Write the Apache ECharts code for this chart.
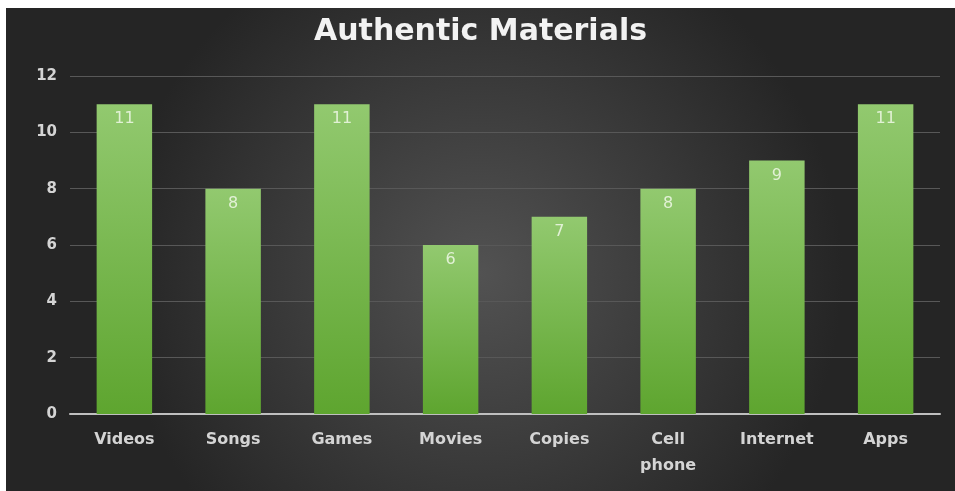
<!DOCTYPE html>
<html>
<head>
<meta charset="utf-8">
<script src="https://cdn.jsdelivr.net/npm/echarts@6/dist/echarts.min.js"></script>
<style>
  html, body { margin: 0; padding: 0; background: #fff; }
  #chart { position: absolute; left: 6px; top: 8px; width: 949px; height: 483px; }
</style>
</head>
<body>
<div id="chart"></div>
<script>
// chart data
const categories = ['Videos', 'Songs', 'Games', 'Movies', 'Copies', 'Cell phone', 'Internet', 'Apps'];
const counts = [11, 8, 11, 6, 7, 8, 9, 11];
const yTicks = { min: 0, max: 12, interval: 2 };

const chart = echarts.init(document.getElementById('chart'));

const option = {
  backgroundColor: {
    type: 'radial', x: 0.5, y: 0.55, r: 0.75,
    colorStops: [
      { offset: 0, color: '#525252' },
      { offset: 1, color: '#252525' }
    ]
  },
  title: {
    text: 'Authentic Materials',
    left: 'center',
    top: 4,
    textStyle: { color: '#f2f2f2', fontFamily: 'DejaVu Sans', fontWeight: 'bold', fontSize: 30 }
  },
  grid: { left: 64, right: 15, top: 68, bottom: 77 },
  xAxis: {
    type: 'category',
    data: categories,
    axisLine: { lineStyle: { color: '#bfbfbf', width: 2 } },
    axisTick: { show: false },
    axisLabel: {
      interval: 0,
      color: '#d4d4d4', fontFamily: 'DejaVu Sans', fontWeight: 'bold', fontSize: 16, margin: 13,
      lineHeight: 26,
      // wrap two-word names onto two lines
      formatter: v => v.replace(' ', '\n')
    }
  },
  yAxis: {
    type: 'value',
    min: yTicks.min, max: yTicks.max, interval: yTicks.interval,
    axisLine: { show: false },
    axisTick: { show: false },
    splitLine: { lineStyle: { color: '#585858', width: 1 } },
    axisLabel: { color: '#d4d4d4', fontFamily: 'DejaVu Sans', fontWeight: 'bold', fontSize: 15, margin: 13 }
  },
  series: [{
    type: 'bar',
    data: counts,
    barWidth: '51%',
    itemStyle: {
      color: new echarts.graphic.LinearGradient(0, 0, 0, 1, [
        { offset: 0, color: '#92c96f' },
        { offset: 1, color: '#5ea52f' }
      ])
    },
    label: {
      show: true, position: 'insideTop', distance: 7,
      color: 'rgba(240,248,232,0.85)', fontFamily: 'DejaVu Sans', fontSize: 16
    }
  }]
};

chart.setOption(option);
</script>
</body>
</html>
